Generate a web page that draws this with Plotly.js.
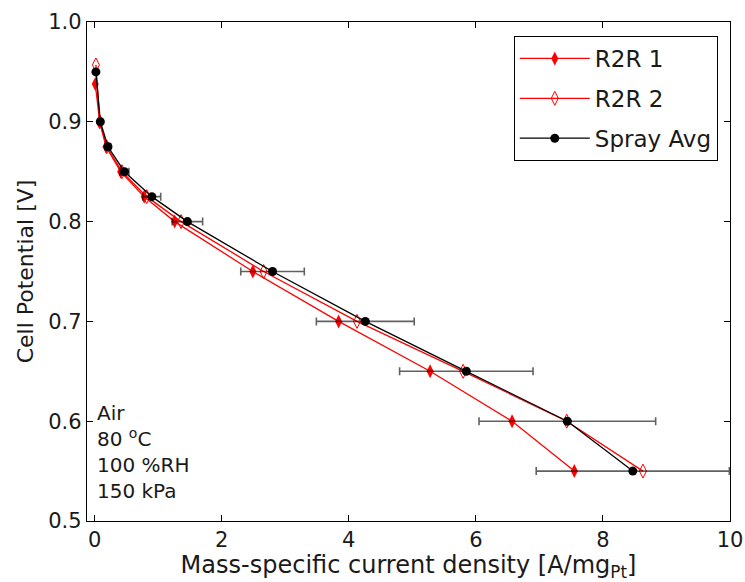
<!DOCTYPE html>
<html>
<head>
<meta charset="utf-8">
<script src="https://cdn.plot.ly/plotly-3.0.1.min.js"></script>
<style>html,body{margin:0;padding:0;background:#fff;}#chart{width:745px;height:582px;}</style>
</head>
<body>
<div id="chart"></div>
<script>
// Cell potential [V]
const r2r1V = [0.938, 0.9, 0.875, 0.85, 0.825, 0.8, 0.75, 0.7, 0.65, 0.6, 0.55];
const r2r1I = [0.01, 0.08, 0.18, 0.41, 0.78, 1.26, 2.49, 3.84, 5.28, 6.57, 7.55];

const r2r2V = [0.957, 0.9, 0.875, 0.85, 0.825, 0.8, 0.75, 0.7, 0.65, 0.6, 0.55];
const r2r2I = [0.02, 0.08, 0.19, 0.43, 0.82, 1.36, 2.66, 4.13, 5.80, 7.43, 8.63];

const sprayV = [0.95, 0.9, 0.875, 0.85, 0.825, 0.8, 0.75, 0.7, 0.65, 0.6, 0.55];
const sprayI = [0.02, 0.09, 0.21, 0.47, 0.90, 1.46, 2.80, 4.26, 5.85, 7.44, 8.47];
const sprayErr = [0.01, 0.02, 0.04, 0.07, 0.14, 0.24, 0.50, 0.77, 1.05, 1.39, 1.52];

const seriesNames = ["R2R 1", "R2R 2", "Spray Avg"];
const xTicks = [0, 2, 4, 6, 8, 10];
const yTicks = [0.5, 0.6, 0.7, 0.8, 0.9, 1.0];
const conditions = ["Air", "80 <sup>o</sup>C", "100 %RH", "150 kPa"];

const FONT = "DejaVu Sans, Bitstream Vera Sans, sans-serif";
const TXT = "#1a1a1a";

const traces = [
  {
    x: r2r1I, y: r2r1V, name: seriesNames[0], type: "scatter", mode: "lines+markers",
    legendgroup: "a",
    line: {color: "#ff0000", width: 1.3},
    marker: {symbol: "diamond-tall", size: 10, color: "#ff0000", line: {color: "#ff0000", width: 0}}
  },
  {
    x: r2r2I, y: r2r2V, name: seriesNames[1], type: "scatter", mode: "lines+markers",
    legendgroup: "b",
    line: {color: "#ff0000", width: 1.3},
    marker: {symbol: "diamond-tall-open", size: 10, color: "#ff0000", line: {color: "#ff0000", width: 1}}
  },
  {
    x: sprayI, y: sprayV, name: seriesNames[2], type: "scatter", mode: "lines+markers",
    legendgroup: "c",
    line: {color: "#000000", width: 1.3},
    marker: {symbol: "circle", size: 9, color: "#000000"},
    error_x: {type: "data", array: sprayErr, visible: true, color: "rgba(0,0,0,0.62)", thickness: 1.6, width: 4}
  }
];

const layout = {
  width: 745, height: 582,
  margin: {l: 87, r: 15, t: 22, b: 61},
  paper_bgcolor: "#ffffff", plot_bgcolor: "#ffffff",
  font: {family: FONT, size: 21, color: TXT},
  showlegend: true,
  legend: {
    x: 0.981, y: 0.972, xanchor: "right", yanchor: "top",
    bgcolor: "#ffffff", bordercolor: "#000000", borderwidth: 1,
    font: {family: FONT, size: 23, color: TXT},
    traceorder: "grouped", tracegroupgap: 7, itemwidth: 70
  },
  xaxis: {
    range: [-0.12, 10], tickvals: xTicks, ticktext: xTicks.map(String),
    ticks: "inside", ticklen: 6, tickcolor: "#000", mirror: "ticks",
    showline: true, linecolor: "#000", linewidth: 1.2,
    showgrid: false, zeroline: false,
    tickfont: {family: FONT, size: 21, color: TXT},
    title: {text: "Mass-specific current density [A/mg<sub>Pt</sub>]", font: {family: FONT, size: 24, color: TXT}, standoff: 4}
  },
  yaxis: {
    range: [0.5, 1.0], tickvals: yTicks, ticktext: yTicks.map(v => v.toFixed(1)),
    ticks: "inside", ticklen: 6, tickcolor: "#000", mirror: "ticks",
    showline: true, linecolor: "#000", linewidth: 1.2,
    showgrid: false, zeroline: false,
    tickfont: {family: FONT, size: 21, color: TXT},
    title: {text: "Cell Potential [V]", font: {family: FONT, size: 22, color: TXT}, standoff: 8}
  },
  annotations: [{
    xref: "paper", yref: "paper", x: 0.012, y: 0.244, xanchor: "left", yanchor: "top",
    text: conditions.join("<br>"), align: "left", showarrow: false,
    font: {family: FONT, size: 20, color: TXT}
  }]
};

Plotly.newPlot("chart", traces, layout, {displayModeBar: false, staticPlot: true});
</script>
</body>
</html>
